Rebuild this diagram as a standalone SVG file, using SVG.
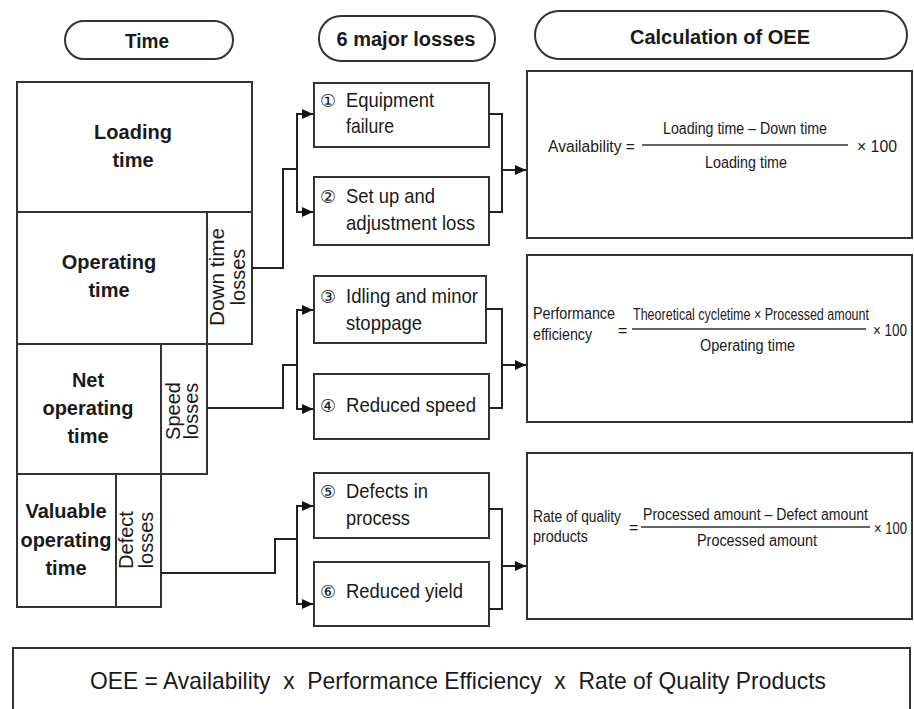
<svg xmlns="http://www.w3.org/2000/svg" width="914" height="709" viewBox="0 0 914 709">
  <style>
    .box { fill: #fff; stroke: #333; stroke-width: 2; }
    .pill { fill: #fff; stroke: #333; stroke-width: 2; }
    .wire { fill: none; stroke: #222; stroke-width: 2; }
    .rule { stroke: #333; stroke-width: 1.6; }
    text { font-family: "Liberation Sans", Arial, sans-serif; fill: #1a1a1a; }
    .hd { font-size: 20px; font-weight: bold; text-anchor: middle; }
    .blk { font-size: 20px; font-weight: bold; text-anchor: middle; }
    .rot { font-size: 20px; text-anchor: middle; }
    .loss { font-size: 21px; }
    .num { font-size: 18px; font-family: "DejaVu Sans", sans-serif; }
    .f { font-size: 16px; }
  </style>
  <defs>
    <marker id="arr" markerUnits="userSpaceOnUse" markerWidth="12" markerHeight="12" refX="11" refY="6" orient="auto">
      <path d="M0,1 L11,6 L0,11 z" fill="#111"/>
    </marker>
  </defs>
  <rect width="914" height="709" fill="#fff"/>

  <!-- column headers -->
  <g id="hdr-time">
    <rect class="pill" x="65" y="21" width="168" height="38" rx="19"/>
    <text class="hd" x="147" y="48" textLength="44" lengthAdjust="spacingAndGlyphs">Time</text>
  </g>
  <g id="hdr-losses">
    <rect class="pill" x="319" y="16" width="176" height="45" rx="22"/>
    <text class="hd" x="406" y="46">6 major losses</text>
  </g>
  <g id="hdr-oee">
    <rect class="pill" x="535" y="11" width="372" height="48" rx="24"/>
    <text class="hd" x="720" y="44" textLength="180" lengthAdjust="spacingAndGlyphs">Calculation of OEE</text>
  </g>

  <!-- time breakdown -->
  <g id="loading-time">
    <rect class="box" x="17" y="82" width="235" height="130"/>
    <text class="blk" x="133" y="139">Loading</text>
    <text class="blk" x="133" y="167">time</text>
  </g>
  <g id="operating-time">
    <rect class="box" x="17" y="212" width="190" height="132"/>
    <text class="blk" x="109" y="269">Operating</text>
    <text class="blk" x="109" y="297">time</text>
  </g>
  <g id="down-time-losses">
    <rect class="box" x="207" y="212" width="45" height="132"/>
    <text class="rot" transform="translate(224,277) rotate(-90)" textLength="98" lengthAdjust="spacingAndGlyphs">Down time</text>
    <text class="rot" transform="translate(245,277) rotate(-90)">losses</text>
  </g>
  <g id="net-operating-time">
    <rect class="box" x="17" y="344" width="144" height="130"/>
    <text class="blk" x="88" y="387">Net</text>
    <text class="blk" x="88" y="415">operating</text>
    <text class="blk" x="88" y="443">time</text>
  </g>
  <g id="speed-losses">
    <rect class="box" x="161" y="344" width="46" height="130"/>
    <text class="rot" transform="translate(180,411) rotate(-90)">Speed</text>
    <text class="rot" transform="translate(198,411) rotate(-90)">losses</text>
  </g>
  <g id="valuable-operating-time">
    <rect class="box" x="17" y="474" width="99" height="133"/>
    <text class="blk" x="66" y="518">Valuable</text>
    <text class="blk" x="66" y="547">operating</text>
    <text class="blk" x="66" y="575">time</text>
  </g>
  <g id="defect-losses">
    <rect class="box" x="116" y="474" width="45" height="133"/>
    <text class="rot" transform="translate(133,540) rotate(-90)">Defect</text>
    <text class="rot" transform="translate(153,540) rotate(-90)">losses</text>
  </g>

  <!-- six major losses -->
  <g id="loss-1">
    <rect class="box" x="314" y="83" width="175" height="64"/>
    <text class="num" x="320" y="107">①</text>
    <text class="loss" x="346" y="107" textLength="88" lengthAdjust="spacingAndGlyphs">Equipment</text>
    <text class="loss" x="346" y="133" textLength="48" lengthAdjust="spacingAndGlyphs">failure</text>
  </g>
  <g id="loss-2">
    <rect class="box" x="314" y="177" width="175" height="68"/>
    <text class="num" x="320" y="203">②</text>
    <text class="loss" x="346" y="203" textLength="89" lengthAdjust="spacingAndGlyphs">Set up and</text>
    <text class="loss" x="346" y="230" textLength="129" lengthAdjust="spacingAndGlyphs">adjustment loss</text>
  </g>
  <g id="loss-3">
    <rect class="box" x="314" y="276" width="172" height="67"/>
    <text class="num" x="320" y="303">③</text>
    <text class="loss" x="346" y="303" textLength="132" lengthAdjust="spacingAndGlyphs">Idling and minor</text>
    <text class="loss" x="346" y="330" textLength="76" lengthAdjust="spacingAndGlyphs">stoppage</text>
  </g>
  <g id="loss-4">
    <rect class="box" x="314" y="374" width="175" height="65"/>
    <text class="num" x="320" y="412">④</text>
    <text class="loss" x="346" y="412" textLength="130" lengthAdjust="spacingAndGlyphs">Reduced speed</text>
  </g>
  <g id="loss-5">
    <rect class="box" x="314" y="473" width="175" height="65"/>
    <text class="num" x="320" y="498">⑤</text>
    <text class="loss" x="346" y="498" textLength="82" lengthAdjust="spacingAndGlyphs">Defects in</text>
    <text class="loss" x="346" y="525" textLength="64" lengthAdjust="spacingAndGlyphs">process</text>
  </g>
  <g id="loss-6">
    <rect class="box" x="314" y="562" width="175" height="64"/>
    <text class="num" x="320" y="598">⑥</text>
    <text class="loss" x="346" y="598" textLength="117" lengthAdjust="spacingAndGlyphs">Reduced yield</text>
  </g>

  <!-- OEE factor formulas -->
  <g id="calc-availability">
    <rect class="box" x="527" y="71" width="385" height="167"/>
    <text class="f" x="548" y="152" textLength="87" lengthAdjust="spacingAndGlyphs">Availability =</text>
    <line class="rule" x1="642" y1="145" x2="848" y2="145"/>
    <text class="f" x="663" y="134" textLength="164" lengthAdjust="spacingAndGlyphs">Loading time – Down time</text>
    <text class="f" x="705" y="168" textLength="82" lengthAdjust="spacingAndGlyphs">Loading time</text>
    <text class="f" x="857" y="152" textLength="40" lengthAdjust="spacingAndGlyphs">× 100</text>
  </g>
  <g id="calc-performance">
    <rect class="box" x="527" y="255" width="385" height="167"/>
    <text class="f" x="533" y="319" textLength="82" lengthAdjust="spacingAndGlyphs">Performance</text>
    <text class="f" x="533" y="340" textLength="59" lengthAdjust="spacingAndGlyphs">efficiency</text>
    <text class="f" x="618" y="336">=</text>
    <line class="rule" x1="632" y1="329" x2="866" y2="329"/>
    <text class="f" x="633" y="320" textLength="236" lengthAdjust="spacingAndGlyphs">Theoretical cycletime × Processed amount</text>
    <text class="f" x="873" y="336" textLength="34" lengthAdjust="spacingAndGlyphs">× 100</text>
    <text class="f" x="700" y="351" textLength="95" lengthAdjust="spacingAndGlyphs">Operating time</text>
  </g>
  <g id="calc-quality">
    <rect class="box" x="527" y="453" width="385" height="166"/>
    <text class="f" x="533" y="522" textLength="88" lengthAdjust="spacingAndGlyphs">Rate of quality</text>
    <text class="f" x="533" y="542" textLength="55" lengthAdjust="spacingAndGlyphs">products</text>
    <text class="f" x="629" y="533">=</text>
    <line class="rule" x1="641" y1="527" x2="870" y2="527"/>
    <text class="f" x="643" y="520" textLength="225" lengthAdjust="spacingAndGlyphs">Processed amount – Defect amount</text>
    <text class="f" x="874" y="534" textLength="33" lengthAdjust="spacingAndGlyphs">× 100</text>
    <text class="f" x="697" y="546" textLength="120" lengthAdjust="spacingAndGlyphs">Processed amount</text>
  </g>

  <!-- overall OEE -->
  <g id="oee-total">
    <rect class="box" x="13" y="648" width="897" height="80"/>
    <text x="90" y="689" font-size="24" style="white-space:pre" textLength="736" lengthAdjust="spacingAndGlyphs">OEE = Availability  x  Performance Efficiency  x  Rate of Quality Products</text>
  </g>

  <!-- connectors -->
  <g id="connectors">
    <path class="wire" d="M252,268 H283 V169 H297"/>
    <path class="wire" d="M297,169 V114 H313" marker-end="url(#arr)"/>
    <path class="wire" d="M297,169 V212 H313" marker-end="url(#arr)"/>
    <path class="wire" d="M489,114 H502 V212 H489"/>
    <path class="wire" d="M502,170 H526" marker-end="url(#arr)"/>

    <path class="wire" d="M207,408 H283 V365 H297"/>
    <path class="wire" d="M297,365 V310 H313" marker-end="url(#arr)"/>
    <path class="wire" d="M297,365 V409 H313" marker-end="url(#arr)"/>
    <path class="wire" d="M486,309 H502 V408 H489"/>
    <path class="wire" d="M502,365 H526" marker-end="url(#arr)"/>

    <path class="wire" d="M161,573 H275 V539 H297"/>
    <path class="wire" d="M297,539 V506 H313" marker-end="url(#arr)"/>
    <path class="wire" d="M297,539 V604 H313" marker-end="url(#arr)"/>
    <path class="wire" d="M489,509 H502 V609 H489"/>
    <path class="wire" d="M502,566 H526" marker-end="url(#arr)"/>
  </g>
</svg>
